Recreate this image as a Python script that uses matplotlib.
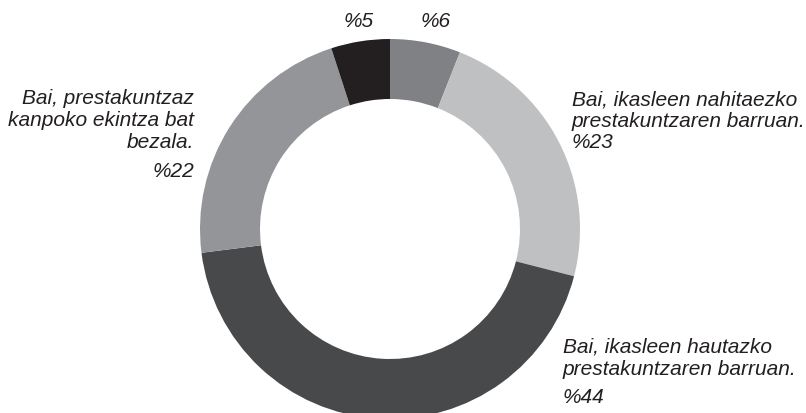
import matplotlib.pyplot as plt

# balioak, goitik hasi eta erlojuaren norantzan
ehunekoak = [6, 23, 44, 22, 5]
koloreak = ['#808184', '#bfc0c2', '#48494b', '#939598', '#231f20']
etiketak = [
    '',
    'Bai, ikasleen nahitaezko\nprestakuntzaren barruan.',
    'Bai, ikasleen hautazko\nprestakuntzaren barruan.',
    'Bai, prestakuntzaz\nkanpoko ekintza bat\nbezala.',
    '',
]

W, H = 806, 414
fig = plt.figure(figsize=(W / 100, H / 100), dpi=100)
ax = fig.add_axes([0, 0, 1, 1])

ax.pie(ehunekoak, colors=koloreak, startangle=90, counterclock=False,
       center=(390, H - 230), radius=190,
       wedgeprops=dict(width=60, linewidth=0))
ax.set_xlim(0, W)
ax.set_ylim(0, H)
ax.set_aspect('equal')
ax.axis('off')

letra = dict(family=['Liberation Sans', 'DejaVu Sans'], style='italic',
             size=15, color='#231f20', linespacing=1.2)

# goiko ehunekoak
ax.text(359, H - 27, f'%{ehunekoak[4]}', ha='center', va='baseline', **letra)
ax.text(436, H - 27, f'%{ehunekoak[0]}', ha='center', va='baseline', **letra)

# eskuineko goikoa
ax.text(572, H - 90, etiketak[1], ha='left', va='top', **letra)
ax.text(572, H - 148, f'%{ehunekoak[1]}', ha='left', va='baseline', **letra)

# eskuineko behekoa
ax.text(563, H - 338, etiketak[2], ha='left', va='top', **letra)
ax.text(563, H - 403, f'%{ehunekoak[2]}', ha='left', va='baseline', **letra)

# ezkerrekoa
ax.text(194, H - 89, etiketak[3], ha='right', va='top', multialignment='right', **letra)
ax.text(194, H - 177, f'%{ehunekoak[3]}', ha='right', va='baseline', **letra)

fig.savefig('out.png', dpi=100)
